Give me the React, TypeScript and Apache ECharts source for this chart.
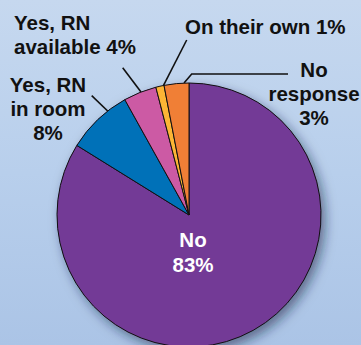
import React, { useEffect, useRef } from "react";
import * as echarts from "echarts";

// ---- data ----
const categories = ["No", "Yes, RN\nin room", "Yes, RN\navailable", "On their own", "No\nresponse"];
const percents = [83, 8, 4, 1, 3];
const percentSeparators = ["\n", "\n", " ", " ", "\n"];
const sliceColors = ["#733a96", "#0071b8", "#cc5aa4", "#fcb535", "#f07f36"];

// ---- layout (annotation placement, not data) ----
const CX = 189;
const CY = 215;
const R = 132;
const LABEL_POS = [
  { x: 193, y: 252, align: "center" },
  { x: 48, y: 108, align: "center" },
  { x: 14, y: 34, align: "left" },
  { x: 185, y: 26, align: "left" },
  { x: 314, y: 93, align: "center" },
];
const LINE_TAIL: (number[][] | null)[] = [
  null,
  [[91.7, 95.7]],
  [[122.7, 67.7]],
  [[186.7, 40]],
  [[191.7, 74], [288, 74]],
];
const START_SHIFT_DEG = [0, 5.6, 0.5, 1.6, 3.3];

export default function App() {
  const ref = useRef<HTMLDivElement>(null);
  useEffect(() => {
    document.body.style.margin = "0";
    const chart = echarts.init(ref.current!, null, { renderer: "svg" });
    const font = "'Liberation Sans', Arial, Helvetica, sans-serif";
    const data = categories.map((name, i) => ({
      name,
      value: percents[i],
      itemStyle: { color: sliceColors[i] },
      label:
        i === 0
          ? { position: "inside", color: "#ffffff", lineHeight: 25 }
          : { position: "outside", color: "#111111" },
      labelLine: { show: i !== 0 },
    }));
    chart.setOption({
      animation: false,
      series: [
        {
          type: "pie",
          silent: true,
          center: [CX, CY],
          radius: R,
          startAngle: 90,
          label: { show: false },
          labelLine: { show: false },
          itemStyle: {
            color: sliceColors[0],
            shadowBlur: 12,
            shadowOffsetX: 4,
            shadowOffsetY: 5,
            shadowColor: "rgba(20,30,60,0.55)",
          },
          data: [{ value: 1 }],
          z: 1,
        },
        {
          type: "pie",
          center: [CX, CY],
          radius: R,
          startAngle: 90,
          clockwise: true,
          avoidLabelOverlap: false,
          itemStyle: { borderColor: "#111111", borderWidth: 1 },
          label: {
            show: true,
            fontFamily: font,
            fontWeight: "bold",
            fontSize: 20.5,
            lineHeight: 24,
            formatter: (p: any) => `${p.name}${percentSeparators[p.dataIndex]}${p.value}%`,
          },
          labelLine: { show: true, lineStyle: { color: "#111111", width: 1.6 } },
          labelLayout: (p: any) => {
            const i = p.dataIndex;
            const pos = LABEL_POS[i];
            const out: any = { x: pos.x, y: pos.y, align: pos.align, verticalAlign: "middle" };
            const tail = LINE_TAIL[i];
            if (tail && p.labelLinePoints && p.labelLinePoints.length) {
              const [sx, sy] = p.labelLinePoints[0];
              const a = Math.atan2(sy - CY, sx - CX) + (START_SHIFT_DEG[i] * Math.PI) / 180;
              out.labelLinePoints = [[CX + R * Math.cos(a), CY + R * Math.sin(a)], ...tail];
            }
            return out;
          },
          data,
          z: 2,
        },
      ],
    });
    return () => chart.dispose();
  }, []);
  return (
    <div
      ref={ref}
      style={{
        width: 361,
        height: 345,
        background: "linear-gradient(180deg, #c6d8ef 0%, #b8cfec 50%, #abc4e6 100%)",
      }}
    />
  );
}
